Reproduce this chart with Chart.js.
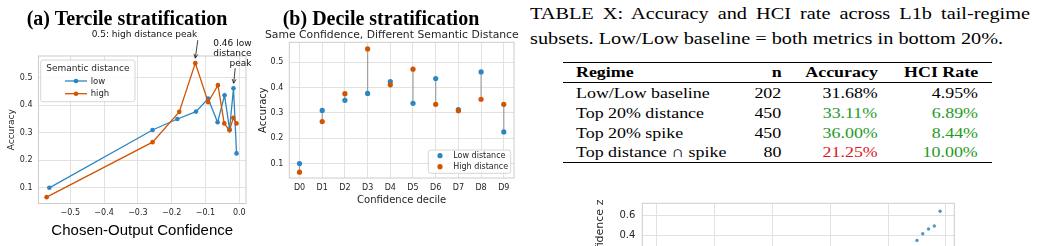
<!DOCTYPE html>
<html>
<head>
<meta charset="utf-8">
<title>Tercile / decile stratification</title>
<script src="https://cdn.jsdelivr.net/npm/chart.js@4.4.1/dist/chart.umd.min.js"></script>
<style>
  html, body { margin: 0; padding: 0; background: #fff; }
  body { position: relative; width: 1038px; height: 246px; overflow: hidden; }
  .box { position: absolute; }
  .txt { position: absolute; white-space: nowrap; }
  .head { font: bold 20px/20px "Liberation Serif", serif; color: #000; }
  .sub { font: 10.8px/12px "DejaVu Sans", sans-serif; color: #262626; }
  .cap { font: 16px/16px "Liberation Serif", serif; color: #000; transform-origin: left top; transform: scaleX(1.267); }
  .cell { font: 15.5px/15.5px "Liberation Serif", serif; }
  .rule { position: absolute; background: #000; }
</style>
</head>
<body>
<canvas id="tercileChart" class="box" width="255" height="246" style="left:0;top:0"></canvas>
<canvas id="decileChart" class="box" width="265" height="246" style="left:255px;top:0"></canvas>
<canvas id="tailChart" class="box" width="380" height="97" style="left:590px;top:190px"></canvas>
<div class="txt head" style="left:26.7px;top:8.3px">(a) Tercile stratification</div>
<div class="txt head" style="left:282.7px;top:8.3px">(b) Decile stratification</div>
<div class="txt sub" style="left:265px;top:29.3px">Same Confidence, Different Semantic Distance</div>
<div class="txt cap" style="left:530px;top:5.9px;width:394.6px;text-align:justify;text-align-last:justify;white-space:normal">TABLE X: Accuracy and HCI rate across L1b tail-regime</div>
<div class="txt cap" style="left:530px;top:30.9px">subsets. Low/Low baseline = both metrics in bottom 20%.</div>
<div id="regimeTable"></div>
<script>
// decile data, shared by (a) and (b)
const deciles = ['D0', 'D1', 'D2', 'D3', 'D4', 'D5', 'D6', 'D7', 'D8', 'D9'];
const lowConf = [-0.562, -0.2565, -0.183, -0.128, -0.092, -0.064, -0.0435, -0.0287, -0.017, -0.008];
const highConf = [-0.570, -0.2565, -0.1775, -0.130, -0.092, -0.063, -0.0444, -0.0287, -0.0175, -0.008];
const lowAcc = [0.100, 0.310, 0.350, 0.377, 0.424, 0.338, 0.436, 0.313, 0.462, 0.225];
const highAcc = [0.066, 0.266, 0.376, 0.553, 0.411, 0.473, 0.334, 0.309, 0.354, 0.334];
const accTicks = [0.1, 0.2, 0.3, 0.4, 0.5];
const confTicks = [-0.5, -0.4, -0.3, -0.2, -0.1, 0.0];

// bottom (cropped) panel
const tailPct = [90, 92, 94, 96, 98];
const tailZ = [0.356, 0.420, 0.465, 0.494, 0.636];
const pctTicks = [0, 20, 40, 60, 80, 100];
const zTicks = [0.2, 0.4, 0.6];

// table
const tableHeader = ['Regime', 'n', 'Accuracy', 'HCI Rate'];
const regimes = ['Low/Low baseline', 'Top 20% distance', 'Top 20% spike', 'Top distance \u2229 spike'];
const regimeN = [202, 450, 450, 80];
const regimeAcc = [31.68, 33.11, 36.00, 21.25];
const regimeHci = [4.95, 6.89, 8.44, 10.00];

const BLUE = '#2E86C1';
const ORANGE = '#D35400';
const GRID = '#e2e2e2';
const SPINE = '#cccccc';
const INK = '#262626';

Chart.defaults.font.family = '"DejaVu Sans", sans-serif';
Chart.defaults.color = INK;

const fixedTicks = (values) => (scale) => { scale.ticks = values.map(v => ({ value: v })); };
const signed = (v) => (v < 0 ? '\u2212' : '') + Math.abs(v).toFixed(1);
const argmax = (arr) => arr.indexOf(Math.max(...arr));

// light grey box round the plot (seaborn whitegrid spines)
const frame = {
  id: 'frame',
  beforeDatasetsDraw(chart) {
    const { ctx, chartArea: a } = chart;
    ctx.save();
    ctx.strokeStyle = SPINE;
    ctx.lineWidth = 1;
    ctx.strokeRect(a.left, a.top, a.right - a.left, a.bottom - a.top);
    ctx.restore();
  }
};

function legendBox(ctx, x, y, w, h) {
  ctx.beginPath();
  ctx.roundRect(x, y, w, h, 2.5);
  ctx.fillStyle = 'rgba(255,255,255,0.85)';
  ctx.fill();
  ctx.strokeStyle = SPINE;
  ctx.lineWidth = 0.8;
  ctx.stroke();
}

function arrow(ctx, x1, y1, x2, y2) {
  const ang = Math.atan2(y2 - y1, x2 - x1), L = 4.5, s = 0.45;
  ctx.beginPath();
  ctx.moveTo(x1, y1);
  ctx.lineTo(x2, y2);
  ctx.moveTo(x2 - L * Math.cos(ang - s), y2 - L * Math.sin(ang - s));
  ctx.lineTo(x2, y2);
  ctx.lineTo(x2 - L * Math.cos(ang + s), y2 - L * Math.sin(ang + s));
  ctx.stroke();
}

const semLegend = {
  id: 'semLegend',
  afterDatasetsDraw(chart) {
    const { ctx, chartArea: a } = chart;
    const x = a.left + 2.2, y = a.top + 4, w = 94.3, h = 41.7;
    ctx.save();
    legendBox(ctx, x, y, w, h);
    ctx.fillStyle = INK;
    ctx.textAlign = 'center';
    ctx.textBaseline = 'middle';
    ctx.font = '9px "DejaVu Sans"';
    ctx.fillText('Semantic distance', x + w / 2, y + 8.5);
    ctx.font = '8.5px "DejaVu Sans"';
    ctx.textAlign = 'left';
    chart.data.datasets.forEach((ds, i) => {
      const ly = y + 21 + i * 12.7;
      ctx.strokeStyle = ds.borderColor;
      ctx.lineWidth = 1.3;
      ctx.beginPath();
      ctx.moveTo(x + 24.3, ly);
      ctx.lineTo(x + 46.3, ly);
      ctx.stroke();
      ctx.fillStyle = ds.backgroundColor;
      ctx.beginPath();
      ctx.arc(x + 35.3, ly, 2.3, 0, Math.PI * 2);
      ctx.fill();
      ctx.fillStyle = INK;
      ctx.fillText(ds.label, x + 50, ly + 0.5);
    });
    ctx.restore();
  }
};

const peakNotes = {
  id: 'peakNotes',
  afterDatasetsDraw(chart) {
    const { ctx } = chart;
    const lo = chart.getDatasetMeta(0).data[argmax(lowAcc)];
    const hi = chart.getDatasetMeta(1).data[argmax(highAcc)];
    ctx.save();
    ctx.fillStyle = '#111';
    ctx.strokeStyle = '#111';
    ctx.lineWidth = 0.8;
    ctx.font = '9px "DejaVu Sans"';
    ctx.textAlign = 'right';
    ctx.textBaseline = 'alphabetic';
    ctx.fillText('0.5: high distance peak', hi.x + 2, hi.y - 25.7);
    arrow(ctx, hi.x + 2.5, hi.y - 23, hi.x, hi.y - 5);
    ['0.46 low', 'distance', 'peak'].forEach((t, i) => {
      ctx.fillText(t, lo.x + 18, lo.y - 42.3 + i * 10.3);
    });
    arrow(ctx, lo.x + 1.7, lo.y - 20, lo.x + 0.2, lo.y - 5);
    ctx.restore();
  }
};

new Chart(document.getElementById('tercileChart'), {
  type: 'scatter',
  data: {
    datasets: [
      {
        label: 'low',
        data: lowConf.map((x, i) => ({ x, y: lowAcc[i] })),
        showLine: true,
        borderColor: BLUE,
        backgroundColor: BLUE,
        borderWidth: 1.3,
        pointRadius: 2.3,
        pointBorderWidth: 0,
        order: 2
      },
      {
        label: 'high',
        data: highConf.map((x, i) => ({ x, y: highAcc[i] })),
        showLine: true,
        borderColor: ORANGE,
        backgroundColor: ORANGE,
        borderWidth: 1.3,
        pointRadius: 2.3,
        pointBorderWidth: 0,
        order: 1
      }
    ]
  },
  options: {
    responsive: false,
    animation: false,
    devicePixelRatio: 1,
    layout: { padding: { top: 56, right: 9, left: 0, bottom: 0 } },
    plugins: { legend: { display: false }, tooltip: { enabled: false } },
    scales: {
      x: {
        type: 'linear',
        min: -0.594,
        max: 0.02,
        afterBuildTicks: fixedTicks(confTicks),
        afterFit: (s) => { s.height = 42.5; },
        grid: { color: GRID, drawTicks: false },
        border: { display: false },
        ticks: { padding: 5, font: { size: 8 }, maxRotation: 0, autoSkip: false, callback: signed },
        title: {
          display: true,
          text: 'Chosen-Output Confidence',
          color: '#000',
          font: { family: '"Liberation Sans", sans-serif', size: 15 },
          padding: { top: 0, bottom: 6.4 }
        }
      },
      y: {
        min: 0.043,
        max: 0.579,
        afterBuildTicks: fixedTicks(accTicks),
        afterFit: (s) => { s.width = 38.5; },
        grid: { color: GRID, drawTicks: false },
        border: { display: false },
        ticks: { padding: 6, font: { size: 8 }, callback: (v) => v.toFixed(1) },
        title: { display: true, text: 'Accuracy', font: { size: 9 }, padding: { top: 6.6, bottom: 0 } }
      }
    }
  },
  plugins: [frame, semLegend, peakNotes]
});

const distLegend = {
  id: 'distLegend',
  afterDatasetsDraw(chart) {
    const { ctx, chartArea: a } = chart;
    const w = 82.4, h = 23.3;
    const x = a.right - 3.3 - w, y = a.bottom - 4.7 - h;
    ctx.save();
    legendBox(ctx, x, y, w, h);
    ctx.font = '8px "DejaVu Sans"';
    ctx.textAlign = 'left';
    ctx.textBaseline = 'middle';
    chart.data.datasets.slice(0, 2).forEach((ds, i) => {
      const ly = y + 5.7 + i * 11;
      ctx.fillStyle = ds.backgroundColor;
      ctx.beginPath();
      ctx.arc(x + 11.7, ly, 2.6, 0, Math.PI * 2);
      ctx.fill();
      ctx.fillStyle = INK;
      ctx.fillText(ds.label, x + 25, ly + 0.5);
    });
    ctx.restore();
  }
};

new Chart(document.getElementById('decileChart'), {
  type: 'scatter',
  data: {
    datasets: [
      {
        label: 'Low distance',
        data: lowAcc.map((y, i) => ({ x: i, y })),
        backgroundColor: BLUE,
        borderColor: BLUE,
        pointRadius: 2.6,
        pointBorderWidth: 0,
        order: 2
      },
      {
        label: 'High distance',
        data: highAcc.map((y, i) => ({ x: i, y })),
        backgroundColor: ORANGE,
        borderColor: ORANGE,
        pointRadius: 2.6,
        pointBorderWidth: 0,
        order: 1
      },
      {
        label: 'gap',
        data: deciles.flatMap((d, i) => [{ x: i, y: lowAcc[i] }, { x: i, y: highAcc[i] }, { x: i, y: null }]),
        showLine: true,
        spanGaps: false,
        borderColor: 'rgba(120,120,120,0.6)',
        borderWidth: 1.3,
        pointRadius: 0,
        order: 3
      }
    ]
  },
  options: {
    responsive: false,
    animation: false,
    devicePixelRatio: 1,
    layout: { padding: { top: 42.3, right: 6, left: 0, bottom: 0 } },
    plugins: { legend: { display: false }, tooltip: { enabled: false } },
    scales: {
      x: {
        type: 'linear',
        min: -0.45,
        max: 9.45,
        afterBuildTicks: fixedTicks(deciles.map((d, i) => i)),
        afterFit: (s) => { s.height = 68; },
        grid: { color: GRID, drawTicks: false },
        border: { display: false },
        ticks: { padding: 5, font: { size: 8 }, maxRotation: 0, autoSkip: false, callback: (v) => deciles[v] },
        title: { display: true, text: 'Confidence decile', font: { size: 10 }, padding: { top: 0, bottom: 40 } }
      },
      y: {
        min: 0.043,
        max: 0.579,
        afterBuildTicks: fixedTicks(accTicks),
        afterFit: (s) => { s.width = 34.3; },
        grid: { color: GRID, drawTicks: false },
        border: { display: false },
        ticks: { padding: 6, font: { size: 8 }, callback: (v) => v.toFixed(1) },
        title: { display: true, text: 'Accuracy', font: { size: 10 }, padding: { top: 2.3, bottom: 0 } }
      }
    }
  },
  plugins: [frame, distLegend]
});

// only the top strip of this panel is inside the picture
new Chart(document.getElementById('tailChart'), {
  type: 'scatter',
  data: {
    datasets: [{
      label: 'tail',
      data: tailPct.map((x, i) => ({ x, y: tailZ[i] })),
      backgroundColor: 'rgba(46,134,193,0.85)',
      pointRadius: 1.7,
      pointBorderWidth: 0
    }]
  },
  options: {
    responsive: false,
    animation: false,
    devicePixelRatio: 1,
    layout: { padding: { top: 13.3, right: 15.7, left: 0, bottom: 0 } },
    plugins: { legend: { display: false }, tooltip: { enabled: false } },
    scales: {
      x: {
        type: 'linear',
        min: -4.9,
        max: 102.9,
        afterBuildTicks: fixedTicks(pctTicks),
        afterFit: (s) => { s.height = 20; },
        grid: { color: GRID, drawTicks: false },
        border: { display: false },
        ticks: { display: false }
      },
      y: {
        min: 0.1,
        max: 0.713,
        afterBuildTicks: fixedTicks(zTicks),
        afterFit: (s) => { s.width = 52.3; },
        grid: { color: GRID, drawTicks: false },
        border: { display: false },
        ticks: { padding: 7, font: { size: 10 }, callback: (v) => v.toFixed(1) },
        title: { display: true, text: 'Confidence z', font: { size: 11 }, padding: { top: 3.4, bottom: 0 } }
      }
    }
  },
  plugins: [frame]
});

// booktabs-style table
const CELL_SCALE = 1.155;
const colEdges = [575.8, 781.7, 877.5, 978];
const colAlign = ['left', 'right', 'right', 'right'];
const headerTop = 63.8;
const rowTop0 = 85.1;
const rowStep = 19.7;
const GREEN = '#1e9a25';
const RED = '#e3141c';
const tableEl = document.getElementById('regimeTable');

function putCell(text, col, top, color, bold) {
  const d = document.createElement('div');
  d.className = 'txt cell';
  d.textContent = text;
  d.style.top = top + 'px';
  d.style.color = color;
  if (bold) d.style.fontWeight = 'bold';
  if (colAlign[col] === 'left') {
    d.style.left = colEdges[col] + 'px';
    d.style.transformOrigin = 'left top';
  } else {
    d.style.right = (1038 - colEdges[col]) + 'px';
    d.style.transformOrigin = 'right top';
  }
  d.style.transform = 'scaleX(' + CELL_SCALE + ')';
  tableEl.appendChild(d);
}

function putRule(y, h) {
  const r = document.createElement('div');
  r.className = 'rule';
  r.style.left = '563.3px';
  r.style.width = '428.4px';
  r.style.top = y + 'px';
  r.style.height = h + 'px';
  tableEl.appendChild(r);
}

const tone = (v, base, i) => (i === 0 ? '#000' : v > base ? GREEN : RED);

tableHeader.forEach((h, c) => putCell(h, c, headerTop, '#000', true));
regimes.forEach((name, i) => {
  const top = rowTop0 + i * rowStep;
  putCell(name, 0, top, '#000');
  putCell(String(regimeN[i]), 1, top, '#000');
  putCell(regimeAcc[i].toFixed(2) + '%', 2, top, tone(regimeAcc[i], regimeAcc[0], i));
  putCell(regimeHci[i].toFixed(2) + '%', 3, top, tone(regimeHci[i], regimeHci[0], i));
});
putRule(61.7, 1.3);
putRule(82.4, 0.9);
putRule(162, 1.3);
</script>
</body>
</html>
